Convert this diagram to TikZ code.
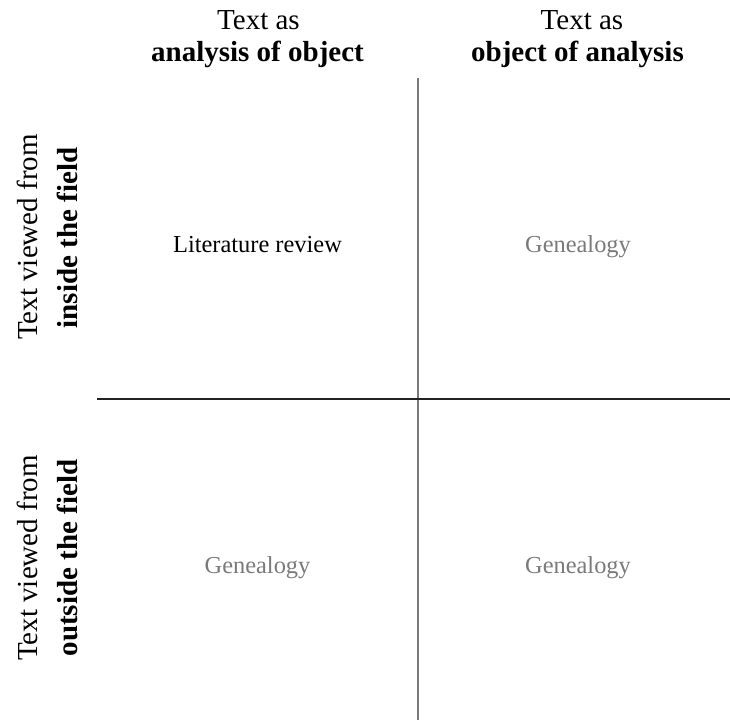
\documentclass[tikz,border=0pt]{standalone}
\usepackage{fontspec}
\setmainfont{Liberation Serif}
\definecolor{lightgraytext}{HTML}{7A7A7A}
\definecolor{vline}{HTML}{7A7A7A}
\definecolor{hline}{HTML}{222222}
\begin{document}
\begin{tikzpicture}[x=0.5pt,y=-0.5pt,
  head/.style={anchor=base,inner sep=0pt,font=\fontsize{14.5pt}{17pt}\selectfont},
  headb/.style={head,font=\fontsize{14.5pt}{17pt}\selectfont\bfseries},
  side/.style={head,rotate=90},
  sideb/.style={headb,rotate=90},
  cell/.style={anchor=base,inner sep=0pt,font=\fontsize{12.2pt}{15pt}\selectfont},
  cellg/.style={cell,text=lightgraytext}]
\useasboundingbox (0,0) rectangle (730,720);
% axes
\coordinate (vtop) at (418,78);
\coordinate (vbot) at (418,720);
\coordinate (hl) at (97,399);
\coordinate (hr) at (730,399);
\draw[vline,line width=1.1pt] (vtop) -- (vbot);
\draw[hline,line width=1pt] (hl) -- (hr);
% column headers
\node[head]  (c1a) at (258.5,29) {Text as};
\node[headb] (c1b) at (257.5,61) {analysis of object};
\node[head]  (c2a) at (582,29) {Text as};
\node[headb] (c2b) at (577.5,61) {object of analysis};
% row headers
\node[side]  (r1a) at (38,237) {Text viewed from};
\node[sideb] (r1b) at (77,238) {inside the field};
\node[side]  (r2a) at (38,558) {Text viewed from};
\node[sideb] (r2b) at (77,558) {outside the field};
% cells
\node[cell]  (q1) at (257.5,252) {Literature review};
\node[cellg] (q2) at (578,252) {Genealogy};
\node[cellg] (q3) at (257.5,573) {Genealogy};
\node[cellg] (q4) at (578,573) {Genealogy};
\end{tikzpicture}
\end{document}
